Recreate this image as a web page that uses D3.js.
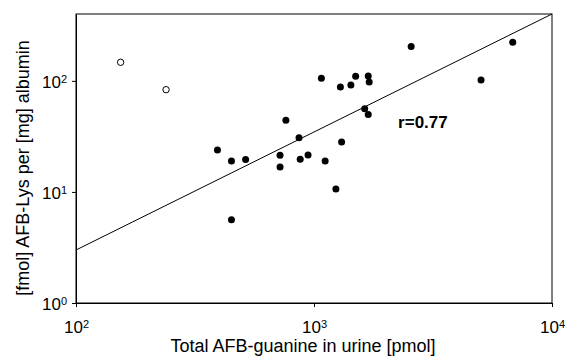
<!DOCTYPE html>
<html>
<head>
<meta charset="utf-8">
<script src="https://cdn.jsdelivr.net/npm/d3@7"></script>
<style>
  body { margin: 0; background: #fff; }
  text { font-family: "Liberation Sans", Arial, sans-serif; }
</style>
</head>
<body>
<script>
const width = 565;
const height = 357;
const margin = { top: 14, right: 13, bottom: 54, left: 76 };
const innerW = width - margin.left - margin.right;
const innerH = height - margin.top - margin.bottom;

// Total AFB-guanine in urine [pmol] vs AFB-Lys per mg albumin
const filledX = [393, 450, 516, 720, 720, 762, 865, 875, 944, 1074, 1114, 1291, 1306, 1429, 1496, 1633, 1690, 1690, 1706, 2560, 5034, 6840, 450, 1236];
const filledY = [23.9, 19.0, 19.6, 21.4, 16.8, 44.1, 30.7, 19.7, 21.5, 105.5, 19.0, 88.1, 28.2, 91.8, 110, 56.1, 49.9, 110.8, 97.7, 203.7, 101.9, 223, 5.62, 10.6];
// excluded points (open circles)
const openX = [154, 239];
const openY = [147, 83.3];
// regression line end points
const fitX = [100, 10000];
const fitY = [3.0, 400];
const xTicks = [100, 1000, 10000];
const yTicks = [1, 10, 100];

const svg = d3.select('body').append('svg')
    .attr('width', width)
    .attr('height', height);

const g = svg.append('g')
    .attr('transform', `translate(${margin.left},${margin.top})`);

const x = d3.scaleLog().domain([100, 10000]).range([0, innerW]);
const y = d3.scaleLog().domain([1, 400]).range([innerH, 0]);

// superscript tick labels like 10^2
function powerLabels(sel) {
    sel.selectAll('.tick text').each(function(d) {
        const t = d3.select(this);
        t.text(null);
        t.append('tspan').text('10');
        t.append('tspan')
            .attr('dy', '-0.5em')
            .attr('font-size', '11px')
            .text(Math.round(Math.log10(d)));
    });
}

const xAxis = g.append('g')
    .attr('transform', `translate(0,${innerH})`)
    .call(d3.axisBottom(x).tickValues(xTicks).tickSize(4).tickSizeOuter(0).tickPadding(14));
xAxis.selectAll('text').attr('font-size', '17px').attr('fill', '#000');
xAxis.call(powerLabels);

const yAxis = g.append('g')
    .call(d3.axisLeft(y).tickValues(yTicks).tickSize(4).tickSizeOuter(0).tickPadding(5));
yAxis.selectAll('text').attr('font-size', '17px').attr('fill', '#000').attr('dy', '0.4em');
yAxis.call(powerLabels);

g.selectAll('.domain, .tick line').attr('stroke', '#000');

// frame
g.append('rect')
    .attr('width', innerW)
    .attr('height', innerH)
    .attr('fill', 'none')
    .attr('stroke', '#000')
    .attr('stroke-width', 1);

// regression line
g.append('line')
    .attr('x1', x(fitX[0])).attr('y1', y(fitY[0]))
    .attr('x2', x(fitX[1])).attr('y2', y(fitY[1]))
    .attr('stroke', '#000')
    .attr('stroke-width', 1);

// points
g.append('g').selectAll('circle')
    .data(d3.range(filledX.length))
    .enter().append('circle')
    .attr('cx', i => x(filledX[i]))
    .attr('cy', i => y(filledY[i]))
    .attr('r', 3.5)
    .attr('fill', '#000');

g.append('g').selectAll('circle')
    .data(d3.range(openX.length))
    .enter().append('circle')
    .attr('cx', i => x(openX[i]))
    .attr('cy', i => y(openY[i]))
    .attr('r', 3.2)
    .attr('fill', '#fff')
    .attr('stroke', '#000')
    .attr('stroke-width', 1);

// correlation label
g.append('text')
    .attr('x', x(2256))
    .attr('y', y(37.5))
    .attr('font-size', '17px')
    .attr('font-weight', 'bold')
    .text('r=0.77');

// axis titles
svg.append('text')
    .attr('x', 303)
    .attr('y', 352)
    .attr('text-anchor', 'middle')
    .attr('font-size', '18px')
    .text('Total AFB-guanine in urine [pmol]');

svg.append('text')
    .attr('transform', 'translate(29,168) rotate(-90)')
    .attr('text-anchor', 'middle')
    .attr('font-size', '18px')
    .text('[fmol] AFB-Lys per [mg] albumin');
</script>
</body>
</html>
